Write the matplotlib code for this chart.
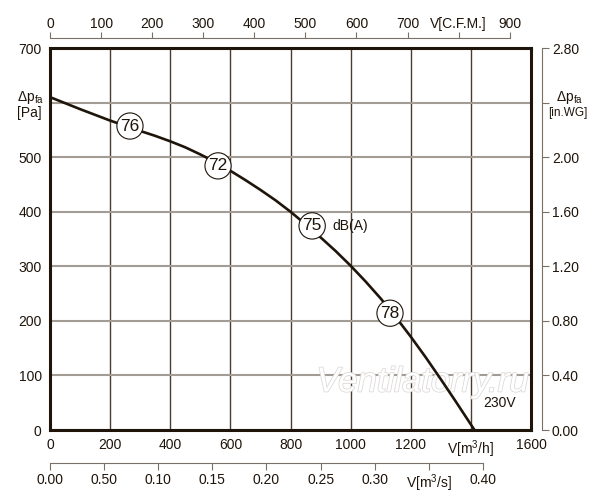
import matplotlib
matplotlib.use('Agg')
import matplotlib.pyplot as plt
import matplotlib.patheffects as pe

plt.rcParams['font.family'] = ['Liberation Sans', 'DejaVu Sans']
plt.rcParams['mathtext.fontset'] = 'custom'
plt.rcParams['mathtext.rm'] = 'Liberation Sans'
plt.rcParams['mathtext.it'] = 'Liberation Sans'

# fan curve, 230V: flow [m3/h] vs static pressure [Pa]
flow = [0, 100, 200, 300, 350, 400, 450, 500, 550, 600, 650, 700, 750, 800, 850, 900,
        950, 1000, 1050, 1100, 1150, 1200, 1250, 1300, 1350, 1412]
pressure = [610, 588, 567, 548, 539, 529, 518, 505, 491, 475, 458, 440, 421, 400, 377, 353,
            328, 301, 272, 241, 207, 171, 133, 93, 52, 0]

# sound level markers on the curve
db_flow = [266, 559, 872, 1131]
db_press = [557, 484, 374, 214]
db_vals = ['76', '72', '75', '78']

x_ticks = [0, 200, 400, 600, 800, 1000, 1200, 1400, 1600]
x_labels = ['0', '200', '400', '600', '800', '1000', '1200', 'V[m$^3$/h]', '1600']
y_ticks = [0, 100, 200, 300, 400, 500, 600, 700]
y_labels = ['0', '100', '200', '300', '400', '500', '', '700']

cfm_ticks = [0, 100, 200, 300, 400, 500, 600, 700, 800, 900]
cfm_labels = ['0', '100', '200', '300', '400', '500', '600', '700', 'V[C.F.M.]', '900']
m3s_ticks = [0.0, 0.05, 0.10, 0.15, 0.20, 0.25, 0.30, 0.35, 0.40]
m3s_labels = ['0.00', '0.50', '0.10', '0.15', '0.20', '0.25', '0.30', 'V[m$^3$/s]', '0.40']
wg_ticks = [0.0, 0.4, 0.8, 1.2, 1.6, 2.0, 2.4, 2.8]
wg_labels = ['0.00', '0.40', '0.80', '1.20', '1.60', '2.00', '', '2.80']

dark = '#1e140a'
axcol = '#7a7068'
fs = 10

fig = plt.figure(figsize=(6, 5), dpi=100)
L, B, W, H = 50 / 600, 70 / 500, 481 / 600, 382 / 500
ax = fig.add_axes([L, B, W, H])
ax.set_xlim(0, 1600)
ax.set_ylim(0, 700)
ax.set_xticks(x_ticks, x_labels, fontsize=fs, color=dark)
ax.set_yticks(y_ticks, y_labels, fontsize=fs, color=dark)
ax.tick_params(axis='both', length=0)
ax.tick_params(axis='x', pad=6)
ax.tick_params(axis='y', pad=6)
ax.xaxis.grid(True, color='#4a3c2e', lw=1)
ax.yaxis.grid(True, color='#a39c95', lw=1.5)
for s in ax.spines.values():
    s.set_color(dark)
    s.set_linewidth(2.2)
    s.set_zorder(5)

ax.plot(flow, pressure, color=dark, lw=1.9, zorder=3, solid_joinstyle='round')
for fx, fy, t in zip(db_flow, db_press, db_vals):
    ax.text(fx, fy, t, ha='center', va='center', fontsize=12.5, color=dark, zorder=4,
            bbox=dict(boxstyle='circle,pad=0.2', fc='white', ec=dark, lw=0.8))
ax.text(938, 374, 'dB(A)', ha='left', va='center', fontsize=fs, color=dark, zorder=4)
ax.text(1442, 50, '230V', ha='left', va='center', fontsize=fs, color=dark, zorder=4)
ax.text(1240, 88, 'Ventilatorry.ru', ha='center', va='center', fontsize=25, style='italic',
        color='white', zorder=2,
        path_effects=[pe.withStroke(linewidth=1.2, foreground='#dddbd9')])

# left pressure label in place of 600
fig.text(L - 6 / 600, 1 - 97 / 500, r'$\Delta$p$_{\mathregular{fa}}$', ha='right', va='center',
         fontsize=fs, color=dark)
fig.text(L - 8 / 600, 1 - 113 / 500, '[Pa]', ha='right', va='center', fontsize=fs, color=dark)

# top CFM axis
axt = fig.add_axes([L, 1 - 38 / 500, W, 1e-4])
axt.set_xlim(0, 1600 / 1.699)
axt.set_yticks([])
for k in ['left', 'right', 'bottom']:
    axt.spines[k].set_visible(False)
axt.spines['top'].set_bounds(0, 900)
axt.spines['top'].set_color(axcol)
axt.xaxis.set_ticks_position('top')
axt.set_xticks(cfm_ticks, cfm_labels, fontsize=fs, color=dark)
axt.tick_params(axis='x', direction='out', length=4.5, color=axcol, pad=0.5)

# bottom m3/s axis
axb = fig.add_axes([L, 37 / 500, W, 1e-4])
axb.set_xlim(0, 1600 / 3600)
axb.set_yticks([])
for k in ['left', 'right', 'top']:
    axb.spines[k].set_visible(False)
axb.spines['bottom'].set_bounds(0, 0.40)
axb.spines['bottom'].set_color(axcol)
axb.set_xticks(m3s_ticks, m3s_labels, fontsize=fs, color=dark)
axb.tick_params(axis='x', direction='out', length=5, color=axcol, pad=2)

# right in.WG axis
axr = fig.add_axes([542 / 600, B, 1e-4, H])
axr.set_ylim(0, 2.8)
axr.set_xticks([])
for k in ['left', 'top', 'bottom']:
    axr.spines[k].set_visible(False)
axr.spines['right'].set_color(axcol)
axr.yaxis.set_ticks_position('right')
axr.set_yticks(wg_ticks, wg_labels, fontsize=fs, color=dark)
axr.tick_params(axis='y', direction='out', length=5, color=axcol, pad=2)
fig.text(570 / 600, 1 - 97 / 500, r'$\Delta$p$_{\mathregular{fa}}$', ha='center', va='center',
         fontsize=fs, color=dark)
fig.text(568 / 600, 1 - 113 / 500, '[in.WG]', ha='center', va='center', fontsize=8.5, color=dark)

fig.savefig('out.png', dpi=100)
